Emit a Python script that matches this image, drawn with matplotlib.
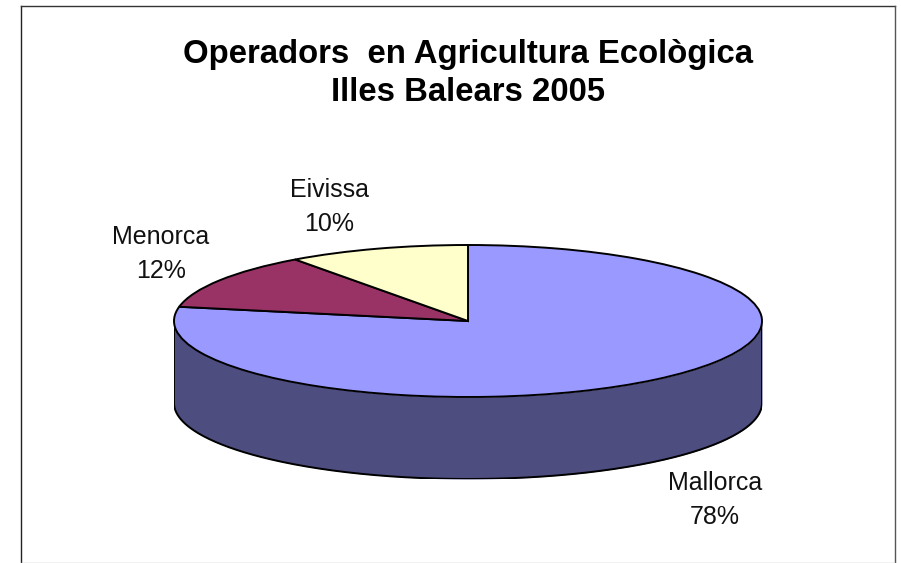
import matplotlib
matplotlib.use('Agg')
import matplotlib.pyplot as plt
from matplotlib.lines import Line2D
import numpy as np

plt.rcParams['font.family'] = ['Liberation Sans', 'DejaVu Sans']

# Data
categories = ['Mallorca', 'Menorca', 'Eivissa']
values = [78, 12, 10]
colors = ['#9999FF', '#993366', '#FFFFCC']
wall_color = '#4D4D80'
title_lines = ['Operadors  en Agricultura Ecològica', 'Illes Balears 2005']

W, H = 901, 563
fig = plt.figure(figsize=(W / 100, H / 100), dpi=100, facecolor='white')

# Pie ellipse in pixels (top surface), depth is the height of the wall
cx, cy, rx, ry = 468, 321, 294, 76
depth = 82
ax = fig.add_axes([(cx - rx) / W, 1 - (cy + ry + depth) / H,
                   2 * rx / W, (2 * ry + depth) / H])
ax.patch.set_alpha(0)

ax.pie(values, colors=colors, startangle=90, counterclock=False, radius=1,
       wedgeprops={'edgecolor': 'black', 'linewidth': 1.4, 'zorder': 3})
ax.set_aspect('auto')
d = depth / ry

# Side wall, only the front half shows
t = np.linspace(np.pi, 2 * np.pi, 300)
ax.fill_between(np.cos(t), np.sin(t), np.sin(t) - d, color=wall_color, lw=0, zorder=1)
ax.plot(np.cos(t), np.sin(t) - d, color='black', lw=1.4, zorder=2)
ax.plot([-1, -1], [0, -d], color='black', lw=1.4, zorder=2)
ax.plot([1, 1], [0, -d], color='black', lw=1.4, zorder=2)

ax.set_xlim(-1, 1)
ax.set_ylim(-1 - d, 1)
ax.axis('off')

# Title
fig.text(468 / W, 1 - 63 / H, title_lines[0], ha='center', va='baseline',
         fontsize=23.7, fontweight='bold')
fig.text(468 / W, 1 - 101 / H, title_lines[1], ha='center', va='baseline',
         fontsize=23.7, fontweight='bold')

# Slice labels
label_pos = [(715, 500), (161, 254), (329, 207)]
for name, val, (px, py) in zip(categories, values, label_pos):
    fig.text(px / W, 1 - py / H, f'{name}\n{val}%', ha='center', va='center',
             fontsize=18, color='#111111', linespacing=1.52)

# Chart frame
fig.add_artist(Line2D([20.5 / W, 20.5 / W], [1 - 5.5 / H, 0], color='#222222', lw=1))
fig.add_artist(Line2D([20.5 / W, 894.5 / W], [1 - 5.5 / H, 1 - 5.5 / H], color='#333333', lw=1))
fig.add_artist(Line2D([894.5 / W, 894.5 / W], [1 - 5.5 / H, 0], color='#555555', lw=1))
fig.add_artist(Line2D([20.5 / W, 894.5 / W], [1 - 562.5 / H, 1 - 562.5 / H], color='#BBBBBB', lw=1))

fig.savefig('out.png', dpi=100)
